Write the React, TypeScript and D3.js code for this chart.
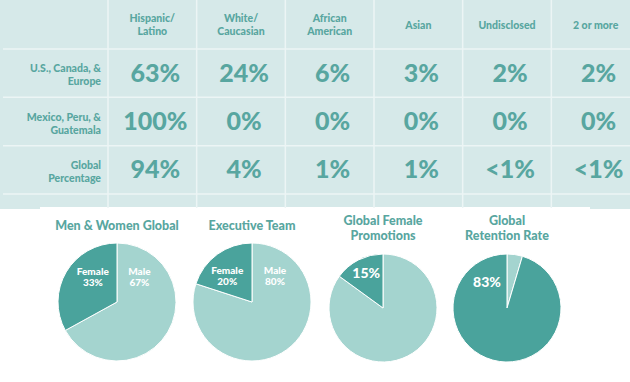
import React from "react";
import * as d3 from "d3";

const columns = ["Hispanic/\nLatino", "White/\nCaucasian", "African\nAmerican", "Asian", "Undisclosed", "2 or more"];
const rowLabels = ["U.S., Canada, &\nEurope", "Mexico, Peru, &\nGuatemala", "Global\nPercentage"];
const usCanadaEurope = ["63%", "24%", "6%", "3%", "2%", "2%"];
const mexicoPeruGuatemala = ["100%", "0%", "0%", "0%", "0%", "0%"];
const globalPercentage = ["94%", "4%", "1%", "1%", "<1%", "<1%"];
const tableValues = [usCanadaEurope, mexicoPeruGuatemala, globalPercentage];

const pieTitles = ["Men & Women Global", "Executive Team", "Global Female\nPromotions", "Global\nRetention Rate"];
const menWomenGlobal = [67, 33];
const executiveTeam = [80, 20];
const femalePromotions = [85, 15];
const retentionRate = [4.6, 95.4];
const pieValues = [menWomenGlobal, executiveTeam, femalePromotions, retentionRate];
const pieLabels = [
  ["Male\n67%", "Female\n33%"],
  ["Male\n80%", "Female\n20%"],
  ["", "15%"],
  ["", "83%"],
];

const W = 630;
const H = 382;
const BG = "#d6e9e9";
const TEAL = "#58a6a0";
const DARK = "#4aa39c";
const LIGHT = "#a4d4cf";
const LINE = "#ecf5f5";
const FONT = "Lato, 'Open Sans', sans-serif";

export default function App() {
  const x = d3.scaleBand<string>().domain(columns).range([108, 640]);
  const y = d3.scaleBand<string>().domain(rowLabels).range([49, 194]);

  const pieCfg = [
    { cx: 117, cy: 302, r: 59, titleY: 227, labelDx: [0.38, -0.41], labelDy: -0.5, fs: 10 },
    { cx: 252, cy: 302, r: 59, titleY: 227, labelDx: [0.39, -0.42], labelDy: -0.52, fs: 10 },
    { cx: 383, cy: 308, r: 54, titleY: 222, labelDx: [0, -0.31], labelDy: -0.63, fs: 14 },
    { cx: 507, cy: 308, r: 54, titleY: 222, labelDx: [0, -0.37], labelDy: -0.46, fs: 14 },
  ];
  const pie = d3.pie<number>().sort(null).startAngle(0).endAngle(2 * Math.PI);

  const multiline = (txt: string, cx: number, cy: number, lh: number, props: any) => {
    const lines = txt.split("\n");
    return lines.map((l, i) => (
      <text key={i} x={cx} y={cy + (i - (lines.length - 1) / 2) * lh} dominantBaseline="middle" {...props}>
        {l}
      </text>
    ));
  };

  return (
    <svg width={W} height={H} style={{ position: "absolute", left: 0, top: 0, background: "#fff" }} fontFamily={FONT}>
      <rect x={0} y={0} width={W} height={209} fill={BG} />
      <rect x={0} y={209} width={W} height={H - 209} fill="#fff" />
      <rect x={40} y={207} width={550} height={3} fill="#fff" />
      {/* grid */}
      {columns.map((c) => (
        <line key={c} x1={x(c)} x2={x(c)} y1={0} y2={208} stroke={LINE} strokeWidth={1.5} />
      ))}
      {rowLabels.map((r) => (
        <line key={r} x1={3} x2={W} y1={y(r)} y2={y(r)} stroke={LINE} strokeWidth={1.5} />
      ))}
      <line x1={3} x2={W} y1={194} y2={194} stroke={LINE} strokeWidth={1.5} />
      {/* headers */}
      {columns.map((c) => (
        <g key={c}>
          {multiline(c, (x(c) as number) + x.bandwidth() / 2, 26, 12.5, {
            textAnchor: "middle",
            fontSize: 10.5,
            fontWeight: 900,
            fill: TEAL,
          })}
        </g>
      ))}
      {/* row labels */}
      {rowLabels.map((r) => (
        <g key={r}>
          {multiline(r, 101, (y(r) as number) + y.bandwidth() / 2 + 3, 13, {
            textAnchor: "end",
            fontSize: 10.5,
            fontWeight: 900,
            fill: TEAL,
          })}
        </g>
      ))}
      {/* values */}
      {tableValues.map((vals, ri) =>
        vals.map((v, ci) => (
          <text
            key={ri + "-" + ci}
            x={(x(columns[ci]) as number) + x.bandwidth() / 2 + 3}
            y={(y(rowLabels[ri]) as number) + y.bandwidth() / 2 + 2}
            textAnchor="middle"
            dominantBaseline="middle"
            fontSize={25}
            fontWeight={900}
            fill={TEAL}
          >
            {v}
          </text>
        ))
      )}
      {/* pies */}
      {pieValues.map((vals, pi) => {
        const cfg = pieCfg[pi];
        const arc = d3.arc<d3.PieArcDatum<number>>().innerRadius(0).outerRadius(cfg.r);
        const arcs = pie(vals);
        return (
          <g key={pi}>
            {multiline(pieTitles[pi], cfg.cx, cfg.titleY + (pieTitles[pi].includes("\n") ? 7.5 : 0), 15, {
              textAnchor: "middle",
              fontSize: 12.5,
              fontWeight: 900,
              fill: TEAL,
            })}
            <g transform={`translate(${cfg.cx},${cfg.cy})`}>
              {arcs.map((a, ai) => (
                <path key={ai} d={arc(a) || ""} fill={ai === 0 ? LIGHT : DARK} stroke="#fff" strokeWidth={1} />
              ))}
              {pieLabels[pi].map((lab, li) =>
                lab ? (
                  <g key={li}>
                    {multiline(lab, cfg.labelDx[li] * cfg.r, cfg.labelDy * cfg.r + (lab.includes("\n") ? 5.5 : 0), 11, {
                      textAnchor: "middle",
                      fontSize: cfg.fs,
                      fontWeight: 900,
                      fill: "#fff",
                    })}
                  </g>
                ) : null
              )}
            </g>
          </g>
        );
      })}
    </svg>
  );
}
